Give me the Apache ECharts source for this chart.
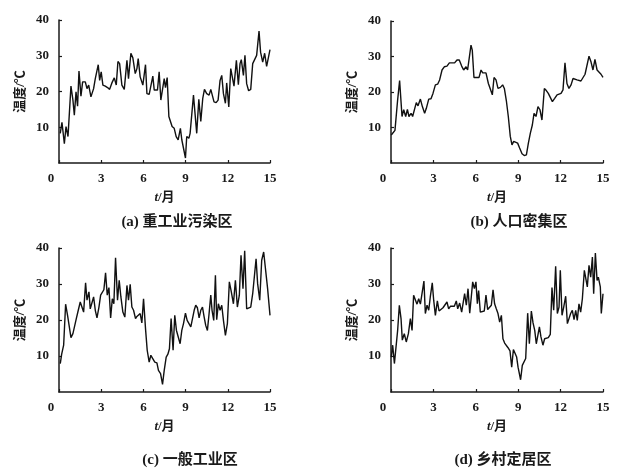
<!DOCTYPE html>
<html><head><meta charset="utf-8">
<script src="https://cdn.jsdelivr.net/npm/echarts@6/dist/echarts.min.js"></script>
<style>html,body{margin:0;padding:0;background:#fff}#c{width:636px;height:475px}</style>
</head><body><div id="c"></div>
<script>
const xTicks = [0, 3, 6, 9, 12, 15];
const yTicks = [10, 20, 30, 40];
const panelTitles = ['(a) 重工业污染区', '(b) 人口密集区', '(c) 一般工业区', '(d) 乡村定居区'];
const yName = '温度/℃';

const tA = [0.09,0.21,0.38,0.50,0.64,0.85,0.99,1.09,1.21,1.32,1.42,1.56,1.68,1.87,1.99,2.11,2.27,2.46,2.58,2.70,2.79,2.89,3.00,3.12,3.29,3.45,3.60,3.76,3.93,4.07,4.19,4.31,4.47,4.64,4.83,4.94,5.11,5.25,5.42,5.54,5.63,5.77,5.96,6.15,6.25,6.41,6.53,6.67,6.77,6.88,7.00,7.12,7.24,7.33,7.48,7.57,7.69,7.81,7.93,8.04,8.19,8.33,8.47,8.63,8.73,8.85,8.99,9.08,9.23,9.32,9.42,9.56,9.68,9.79,9.94,10.08,10.22,10.34,10.50,10.67,10.79,10.91,11.02,11.17,11.31,11.45,11.57,11.69,11.83,11.92,12.07,12.21,12.33,12.44,12.61,12.75,12.87,12.96,13.11,13.22,13.34,13.48,13.63,13.77,13.91,14.05,14.22,14.33,14.48,14.62,14.76,14.88,15.00];
const vA = [8.3,11.4,5.4,10.2,7.4,21.5,17.6,13.4,19.9,15.9,25.7,18.7,22.7,22.7,20.8,21.8,18.5,20.8,23.6,23.1,27.5,23.1,25.5,21.8,21.5,21.1,20.6,22.4,23.8,21.8,28.4,27.8,21.8,20.6,28.7,23.6,30.7,29.4,25.0,26.4,29.2,24.1,21.8,27.5,19.4,19.2,19.3,24.3,20.4,20.8,20.4,25.5,17.6,17.6,23.6,21.1,23.9,13.0,12.5,10.2,9.7,7.4,6.5,9.7,6.5,6.0,1.4,7.4,6.9,8.3,8.8,19.0,13.4,8.3,17.8,11.6,18.1,20.6,19.4,19.0,20.6,20.4,17.1,16.9,17.6,23.1,24.5,19.4,16.7,22.4,15.7,26.4,26.9,21.5,28.7,21.9,27.8,28.9,24.5,30.1,22.2,20.2,20.6,27.8,28.2,30.1,36.9,31.0,28.2,30.7,27.0,26.9,31.7];

const tB = [0.02,0.14,0.28,0.47,0.61,0.78,0.90,1.04,1.16,1.27,1.42,1.53,1.65,1.79,1.91,2.08,2.22,2.38,2.50,2.67,2.83,2.97,3.14,3.30,3.44,3.61,3.77,3.96,4.13,4.32,4.50,4.67,4.83,5.00,5.14,5.31,5.42,5.54,5.66,5.75,5.87,6.04,6.23,6.37,6.49,6.60,6.72,6.89,7.03,7.17,7.29,7.43,7.57,7.74,7.90,8.02,8.16,8.30,8.44,8.56,8.68,8.80,8.96,9.10,9.27,9.43,9.58,9.72,9.86,10.00,10.12,10.26,10.40,10.54,10.68,10.85,10.99,11.13,11.27,11.42,11.58,11.75,11.89,12.03,12.17,12.31,12.45,12.59,12.74,12.88,13.02,13.16,13.30,13.44,13.58,13.73,13.87,14.01,14.15,14.29,14.43,14.58,14.72,14.86,15.00];
const vB = [7.9,8.4,9.2,17.8,23.2,13.1,15.0,13.1,15.1,13.1,14.0,13.1,13.1,17.0,16.1,18.0,15.9,14.0,15.4,18.0,18.1,19.6,22.0,22.2,23.4,26.2,27.1,27.3,28.2,28.2,28.2,29.0,29.0,27.3,26.2,27.1,26.2,26.4,33.2,31.8,24.1,24.1,24.1,26.2,25.4,25.0,25.4,22.4,22.0,19.2,24.1,23.4,21.0,21.3,22.0,21.0,17.6,13.1,7.5,5.1,6.1,6.1,5.6,4.2,2.6,2.1,2.3,5.6,8.4,10.7,14.0,13.1,15.9,15.0,12.1,21.0,20.4,19.6,20.1,17.3,18.2,19.2,19.0,19.6,20.6,28.2,22.4,21.0,22.0,23.8,24.1,23.4,23.1,23.1,23.6,25.0,25.2,30.1,28.5,26.2,29.2,26.2,25.7,25.0,24.1];

const tC = [0.09,0.19,0.33,0.47,0.62,0.73,0.85,0.99,1.11,1.23,1.37,1.51,1.63,1.75,1.89,1.99,2.13,2.22,2.34,2.46,2.58,2.70,2.84,2.96,3.08,3.19,3.31,3.43,3.55,3.67,3.79,3.90,4.02,4.16,4.28,4.40,4.54,4.68,4.83,4.94,5.06,5.18,5.30,5.44,5.54,5.65,5.77,5.89,6.01,6.15,6.27,6.41,6.53,6.67,6.81,6.96,7.07,7.22,7.36,7.48,7.62,7.74,7.85,7.97,8.11,8.23,8.35,8.47,8.61,8.73,8.85,8.99,9.11,9.23,9.37,9.49,9.61,9.72,9.84,9.96,10.08,10.20,10.31,10.43,10.55,10.67,10.79,10.88,11.00,11.12,11.21,11.33,11.45,11.57,11.69,11.83,11.97,12.11,12.25,12.40,12.54,12.68,12.82,12.94,13.08,13.20,13.34,13.48,13.63,13.77,13.89,14.01,14.12,14.27,14.41,14.55,14.69,14.83,15.00];
const vC = [7.9,10.5,13.0,24.4,21.0,20.6,15.1,16.2,16.0,20.4,22.7,25.0,24.7,22.2,30.3,25.5,27.8,23.1,22.7,26.4,22.7,20.6,23.6,26.9,26.4,28.4,33.1,26.9,29.0,20.6,25.9,24.5,37.3,25.5,31.0,26.4,22.2,20.8,29.6,25.5,29.9,23.6,22.7,20.4,21.0,20.6,21.8,19.2,25.9,17.6,11.6,8.3,10.2,9.7,8.3,8.1,6.0,5.1,2.1,6.0,9.7,10.5,12.0,20.4,11.6,21.3,17.1,16.7,13.4,17.1,19.0,21.9,19.9,20.4,18.1,17.9,22.7,24.1,23.4,20.6,22.7,23.6,21.0,18.5,17.1,21.8,26.9,22.7,19.9,32.4,20.1,24.5,22.7,24.1,19.9,15.7,19.0,30.6,27.8,24.5,31.0,23.6,26.9,38.0,28.7,39.2,23.1,22.7,23.6,27.3,27.8,37.0,30.1,25.5,36.6,38.9,39.2,28.7,21.3];

const tD = [0.02,0.12,0.24,0.35,0.47,0.59,0.71,0.80,0.94,1.08,1.23,1.37,1.49,1.60,1.72,1.84,1.96,2.08,2.22,2.33,2.43,2.55,2.67,2.78,2.92,3.02,3.14,3.28,3.40,3.54,3.68,3.82,3.96,4.08,4.20,4.34,4.48,4.62,4.72,4.86,5.00,5.12,5.21,5.33,5.45,5.57,5.68,5.78,5.90,6.01,6.11,6.20,6.32,6.46,6.60,6.72,6.84,6.98,7.10,7.22,7.33,7.45,7.57,7.69,7.81,7.92,8.04,8.16,8.28,8.42,8.54,8.66,8.77,8.89,8.99,9.10,9.17,9.29,9.41,9.53,9.67,9.79,9.93,10.05,10.17,10.28,10.38,10.50,10.61,10.75,10.87,10.99,11.13,11.27,11.39,11.51,11.65,11.77,11.89,11.98,12.10,12.22,12.36,12.48,12.59,12.71,12.83,12.95,13.07,13.18,13.30,13.42,13.54,13.68,13.77,13.89,14.01,14.13,14.25,14.34,14.46,14.58,14.67,14.81,14.88,15.00];
const vD = [9.7,13.0,7.9,7.7,17.1,24.1,20.4,14.4,16.2,13.9,16.2,20.4,17.1,26.9,26.4,24.4,25.9,24.4,24.4,30.8,21.8,24.1,22.7,26.4,30.3,25.5,21.3,25.3,22.5,22.9,23.4,23.8,25.0,23.1,23.8,23.4,23.8,25.3,23.1,24.7,22.2,21.8,27.3,24.1,28.7,21.9,26.4,30.6,28.7,30.6,24.5,28.2,22.2,22.7,22.5,26.9,22.9,22.7,24.1,28.4,24.5,23.1,21.8,19.4,21.3,14.8,13.6,13.4,12.3,11.4,6.9,11.8,11.6,9.7,6.9,7.4,3.4,7.4,7.4,9.3,21.9,13.4,22.5,19.2,17.1,13.4,13.2,18.1,15.3,13.0,14.8,15.3,15.1,16.0,29.0,22.7,34.9,21.8,23.6,33.8,21.3,23.6,26.6,19.0,18.5,21.8,22.7,20.1,22.7,19.9,24.5,22.2,25.9,33.8,34.3,29.2,35.2,31.9,37.5,27.3,38.6,31.0,31.9,29.2,21.8,27.3];

const panels = [
  {t: tA, v: vA, grid: {left: 59, top: 20, width: 211, height: 143}, title: [172, 210]},
  {t: tB, v: vB, grid: {left: 391, top: 21, width: 212, height: 142}, title: [514, 210]},
  {t: tC, v: vC, grid: {left: 59, top: 248, width: 211, height: 144}, title: [185, 448]},
  {t: tD, v: vD, grid: {left: 391, top: 248, width: 212, height: 144}, title: [498, 448]}
];

const numFont = 'Liberation Serif';
const cjkFont = '"Liberation Serif", "Noto Sans CJK SC"';
const ink = '#1a1a1a';

const option = {
  animation: false,
  backgroundColor: '#fff',
  title: panels.map((p, i) => ({
    text: panelTitles[i], left: p.title[0], top: p.title[1], textAlign: 'center',
    textStyle: {fontFamily: cjkFont, fontSize: 15, fontWeight: 'bold', color: ink}
  })),
  grid: panels.map(p => p.grid),
  xAxis: panels.map((p, i) => ({
    type: 'value', gridIndex: i, min: 0, max: 15, interval: 3,
    name: '{i|t}/月', nameLocation: 'middle', nameGap: 28,
    nameTextStyle: {fontFamily: cjkFont, fontSize: 13, fontWeight: 'bold', color: ink,
      rich: {i: {fontFamily: numFont, fontStyle: 'italic', fontWeight: 'bold', fontSize: 13, color: ink}}},
    axisLine: {show: true, lineStyle: {color: ink, width: 1.5}},
    axisTick: {show: true, inside: true, length: 3, lineStyle: {color: ink, width: 1.2}},
    splitLine: {show: false},
    axisLabel: {
      margin: 9, fontFamily: numFont, fontSize: 13, fontWeight: 'bold', color: ink,
      formatter: v => xTicks.indexOf(v) === 0 ? '{o|' + v + '}' : String(v),
      rich: {o: {fontFamily: numFont, fontSize: 13, fontWeight: 'bold', color: ink, padding: [0, 16, 0, 0]}}
    }
  })),
  yAxis: panels.map((p, i) => ({
    type: 'value', gridIndex: i, min: 0, max: yTicks[yTicks.length - 1], interval: 10,
    name: yName, nameLocation: 'middle', nameGap: 32, nameRotate: 90,
    nameTextStyle: {fontFamily: cjkFont, fontSize: 13, fontWeight: 'bold', color: ink},
    axisLine: {show: true, lineStyle: {color: ink, width: 1.5}},
    axisTick: {show: true, inside: true, length: 3, lineStyle: {color: ink, width: 1.2}},
    splitLine: {show: false},
    axisLabel: {showMinLabel: false, margin: 10, fontFamily: numFont, fontSize: 13, fontWeight: 'bold', color: ink}
  })),
  series: panels.map((p, i) => ({
    type: 'line', xAxisIndex: i, yAxisIndex: i, showSymbol: false, symbol: 'none',
    lineStyle: {color: '#111', width: 1.4}, z: 3,
    data: p.t.map((t, k) => [t, p.v[k]])
  }))
};
echarts.init(document.getElementById('c'), null, {renderer: 'canvas'}).setOption(option);
</script></body></html>
